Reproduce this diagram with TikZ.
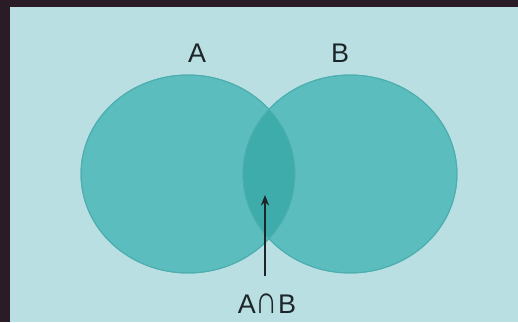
\documentclass[tikz,border=0pt]{standalone}
\usepackage{fontspec}
\setmainfont{Liberation Sans}
\usetikzlibrary{shapes.geometric, arrows.meta}
\definecolor{frameDark}{HTML}{2A1C26}
\definecolor{panelBlue}{HTML}{BADFE2}
\definecolor{setTeal}{HTML}{5CBDBF}
\definecolor{setRim}{HTML}{4CAEAF}
\definecolor{lensTeal}{HTML}{3DACAA}
\definecolor{inkDark}{HTML}{1C2628}
\begin{document}
\begin{tikzpicture}[x=0.03cm, y=-0.03cm, >={Stealth[length=9pt, width=7pt]},
    setcircle/.style={ellipse, draw=setRim, fill=setTeal, line width=0.8pt, minimum width=6.42cm, minimum height=5.94cm, inner sep=0pt},
    setlabel/.style={font=\fontsize{23}{24}\selectfont, text=inkDark, inner sep=0pt}]
	\useasboundingbox (0,0) rectangle (518,322);
	\fill[frameDark] (0,0) rectangle (518,322);
	\fill[panelBlue] (10,7) rectangle (518,322);
	\foreach \n / \cx in {setA/188, setB/350} {
		\node[setcircle] (\n) at (\cx,174) {};
	}
	\begin{scope}
		\clip (setA.center) ellipse [x radius=3.21cm, y radius=2.97cm];
		\fill[lensTeal] (setB.center) ellipse [x radius=3.21cm, y radius=2.97cm];
	\end{scope}
	\foreach \n in {setA, setB} {
		\draw[setRim, line width=0.8pt] (\n.center) ellipse [x radius=3.21cm, y radius=2.97cm];
	}
	\node[setlabel] (labA) at (197,53) {A};
	\node[setlabel] (labB) at (340,53) {B};
	\node[setlabel] (capAB) at (267,304) {A\scalebox{1.15}[1.45]{∩}B};
	\coordinate (lensPt) at (265,195);
	\draw[->, inkDark, line width=1.4pt, shorten <=15pt] (capAB.north -| lensPt) -- (lensPt);
\end{tikzpicture}
\end{document}
